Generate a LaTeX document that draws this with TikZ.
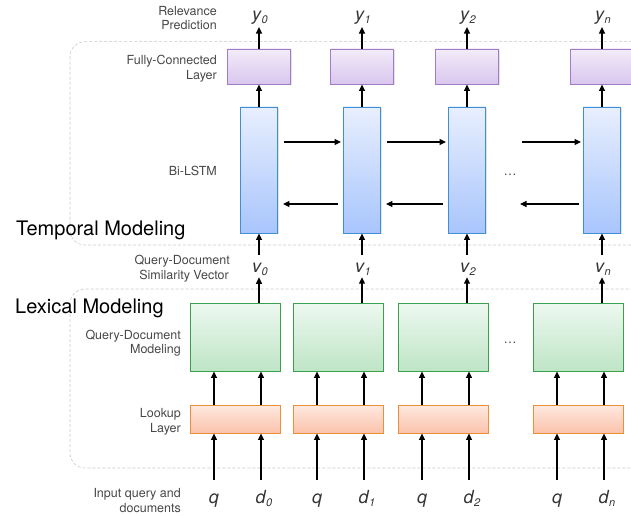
\documentclass[tikz,border=0pt]{standalone}
\usepackage{fontspec}
\setmainfont{TeX Gyre Heros}
\usetikzlibrary{arrows.meta,shadows}

\definecolor{labelgray}{HTML}{474747}
\definecolor{vargray}{HTML}{333333}
\definecolor{framegray}{HTML}{C8C8C8}
\definecolor{fctop}{HTML}{F2ECF9}
\definecolor{fcbot}{HTML}{DAC6EE}
\definecolor{fcline}{HTML}{A07CC5}
\definecolor{lstop}{HTML}{E8EFFE}
\definecolor{lsbot}{HTML}{A8C5FC}
\definecolor{lsline}{HTML}{3D8FD6}
\definecolor{qdtop}{HTML}{EDF8EF}
\definecolor{qdbot}{HTML}{BEE5C6}
\definecolor{qdline}{HTML}{3AA050}
\definecolor{lktop}{HTML}{FEE9E1}
\definecolor{lkbot}{HTML}{FBC2AA}
\definecolor{lkline}{HTML}{EB8F38}

% italic variable with an italic subscript
\newcommand\varlab[2]{#1\kern0.5pt\raisebox{-3pt}{\fontsize{11}{11}\selectfont #2}}

\begin{document}
\begin{tikzpicture}[x=1pt,y=-1pt,
  lbl/.style={font=\fontsize{12.5}{15}\selectfont, text=labelgray, inner sep=0pt, anchor=base east},
  biglbl/.style={font=\fontsize{20}{24}\selectfont, text=black, inner sep=0pt, anchor=base west},
  var/.style={font=\fontsize{18}{18}\selectfont\itshape, text=vargray, inner sep=0pt, anchor=base},
  arr/.style={-{Triangle[length=6.5pt,width=6pt]}, line width=1.3pt, black},
  frame/.style={draw=framegray, line width=0.6pt, dash pattern=on 3pt off 2pt, rounded corners=15pt},
  boxbase/.style={draw, line width=0.9pt, inner sep=0pt,
    drop shadow={shadow xshift=1pt, shadow yshift=-1.2pt, opacity=0.22}},
  fcbox/.style={boxbase, draw=fcline, top color=fctop, bottom color=fcbot,
    minimum width=63pt, minimum height=35pt},
  lstmbox/.style={boxbase, draw=lsline, top color=lstop, bottom color=lsbot,
    minimum width=37pt, minimum height=126pt},
  qdbox/.style={boxbase, draw=qdline, top color=qdtop, bottom color=qdbot,
    minimum width=90pt, minimum height=68pt},
  lkbox/.style={boxbase, draw=lkline, top color=lktop, bottom color=lkbot,
    minimum width=90pt, minimum height=28pt},
  dots/.style={font=\fontsize{13}{13}\selectfont, text=labelgray, inner sep=0pt}
]
\useasboundingbox (0,0) rectangle (631,516);
\clip (0,0) rectangle (631,516);

% group frames
\draw[frame] (70,41.7) rectangle (670,245);
\draw[frame] (70,289) rectangle (670,468);

% row labels
\node[lbl] (lRel1) at (217,16) {Relevance};
\node[lbl] (lRel2) at (217,30) {Prediction};
\node[lbl] (lFc1) at (217,65) {Fully-Connected};
\node[lbl] (lFc2) at (217,80) {Layer};
\node[lbl] (lBi) at (217,175) {Bi-LSTM};
\node[biglbl] (tTemp) at (16,235) {Temporal Modeling};
\node[lbl] (lSim1) at (230,264) {Query-Document};
\node[lbl] (lSim2) at (229,279) {Similarity Vector};
\node[biglbl] (tLex) at (15,313) {Lexical Modeling};
\node[lbl] (lQd1) at (181,339) {Query-Document};
\node[lbl] (lQd2) at (181,353) {Modeling};
\node[lbl] (lLk1) at (181,417) {Lookup};
\node[lbl] (lLk2) at (181,432) {Layer};
\node[lbl] (lIn1) at (181,497) {Input query and};
\node[lbl] (lIn2) at (181,512) {documents};

% rows of the horizontal Bi-LSTM arrows
\coordinate (fw) at (0,142);
\coordinate (bw) at (0,204);

% one column per time step
\foreach \i/\c in {0/259,1/362,2/467,n/602}{
  \pgfmathsetmacro{\g}{\c-24}
  \pgfmathsetmacro{\qx}{\g-21}
  \pgfmathsetmacro{\dx}{\g+26}
  \node[fcbox] (fc\i) at (\c,66.5) {};
  \node[lstmbox] (ls\i) at (\c,170) {};
  \node[qdbox] (qd\i) at (\g,337) {};
  \node[lkbox] (lk\i) at (\g,419) {};
  \node[var] (y\i) at (\c+1,21) {\varlab{y}{\i}};
  \node[var] (v\i) at (\c+1,272) {\varlab{v}{\i}};
  \coordinate (qx\i) at (\qx,480);
  \coordinate (dx\i) at (\dx,480);
  \node[var] (q\i) at (\qx,503) {q};
  \node[var] (d\i) at (\dx+3,503) {\varlab{d}{\i}};
  \draw[arr, shorten >=2pt] (fc\i.north) -- (fc\i.north |- y\i.south);
  \draw[arr] (ls\i.north) -- (fc\i.south);
  \draw[arr, shorten <=7pt] (ls\i.south |- v\i.north) -- (ls\i.south);
  \draw[arr, shorten >=2pt] (ls\i.south |- qd\i.north) -- (ls\i.south |- v\i.south);
  \draw[arr] (qx\i) -- (lk\i.south -| qx\i);
  \draw[arr] (dx\i) -- (lk\i.south -| dx\i);
  \draw[arr] (lk\i.north -| qx\i) -- (qd\i.south -| qx\i);
  \draw[arr] (lk\i.north -| dx\i) -- (qd\i.south -| dx\i);
}

% Bi-LSTM recurrences
\draw[arr, shorten <=6pt, shorten >=2pt] (ls0.east |- fw) -- (ls1.west |- fw);
\draw[arr, shorten <=6pt, shorten >=2pt] (ls1.east |- fw) -- (ls2.west |- fw);
\coordinate (gapF) at (522,142);
\draw[arr, shorten >=2pt] (gapF) -- (lsn.west |- fw);
\draw[arr, shorten <=5pt, shorten >=5pt] (ls1.west |- bw) -- (ls0.east |- bw);
\draw[arr, shorten <=5pt, shorten >=5pt] (ls2.west |- bw) -- (ls1.east |- bw);
\coordinate (gapB) at (520,204);
\draw[arr, shorten <=4pt] (lsn.west |- bw) -- (gapB);

\node[dots] (dotsT) at (510,175) {\ldots};
\node[dots] (dotsL) at (510,343) {\ldots};
\end{tikzpicture}
\end{document}
